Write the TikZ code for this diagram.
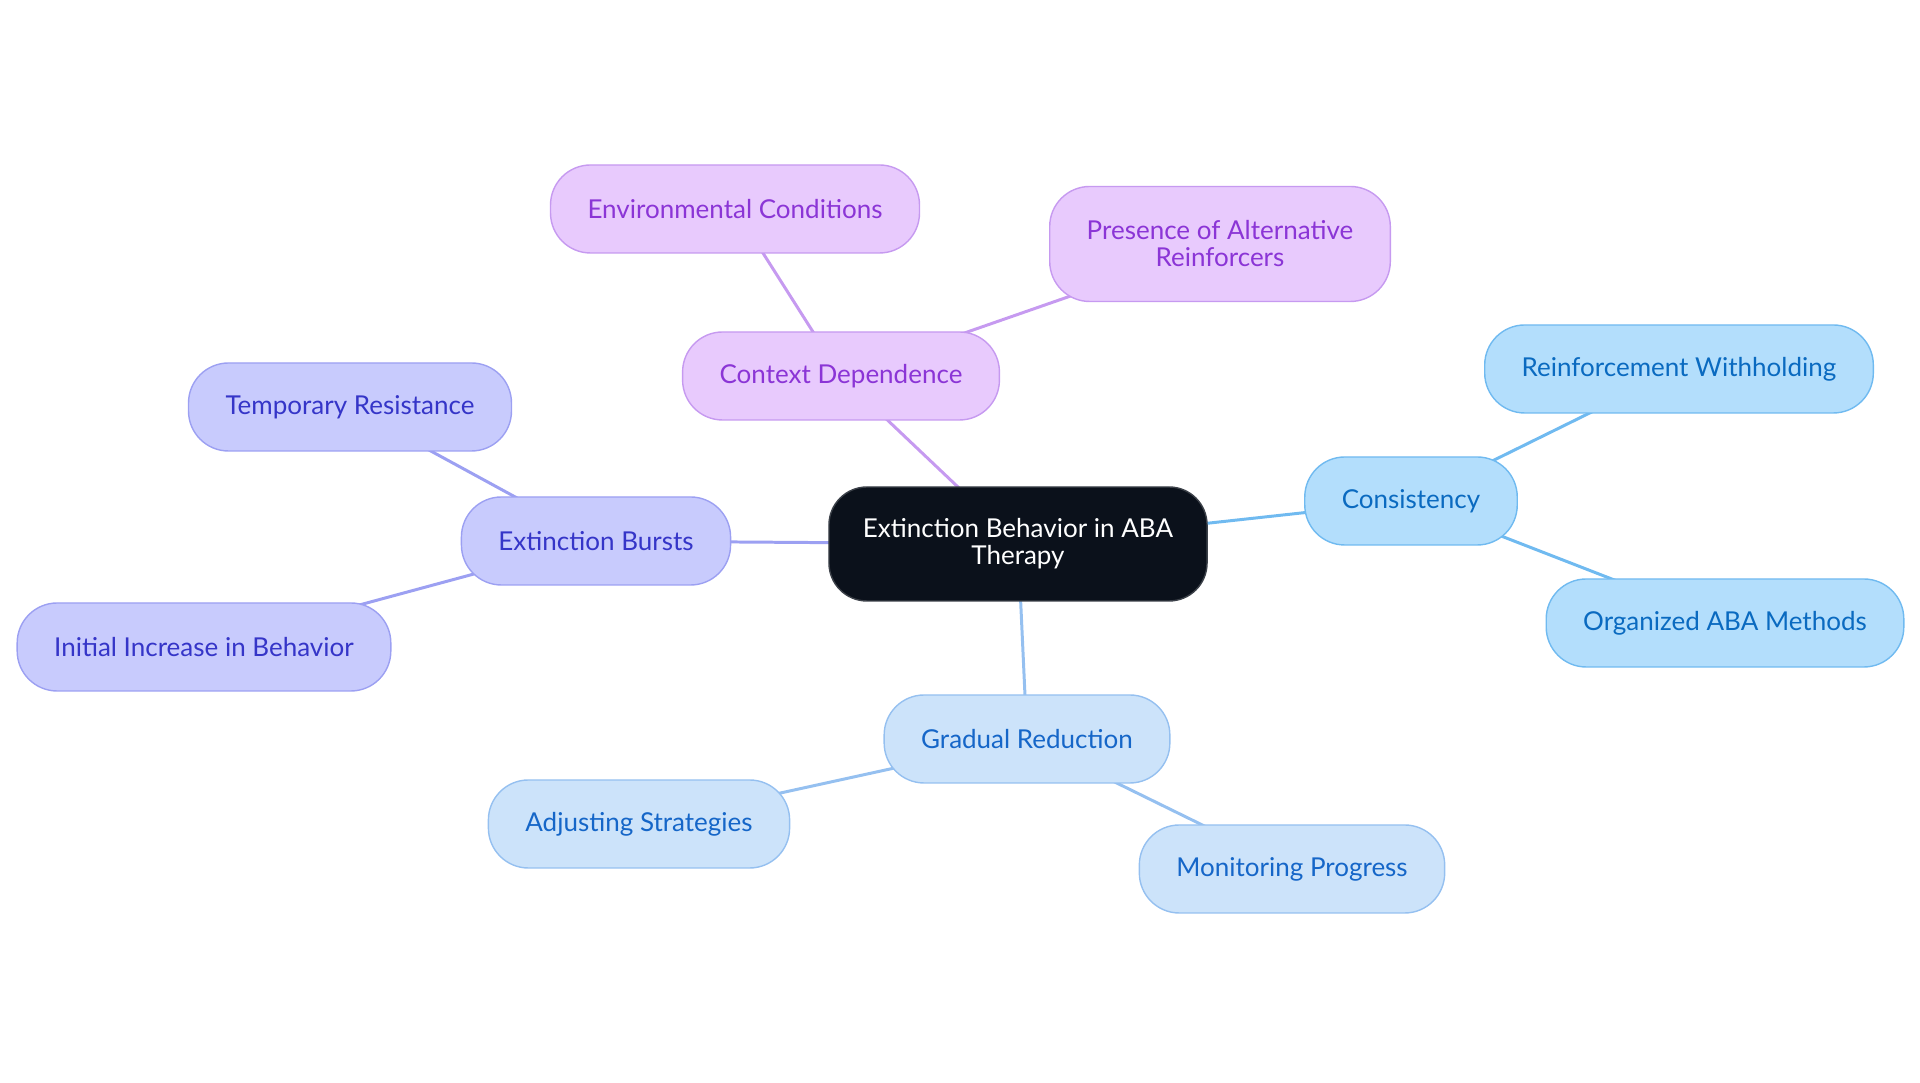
\documentclass[tikz,border=0pt]{standalone}
\usepackage{fontspec}
\setmainfont{Lato}
\usetikzlibrary{backgrounds}
\definecolor{cdark}{HTML}{0B111B}
\definecolor{pfill}{HTML}{E8CAFD}
\definecolor{pline}{HTML}{C69AF0}
\definecolor{ptext}{HTML}{8B35D6}
\definecolor{ifill}{HTML}{C8CBFD}
\definecolor{iline}{HTML}{9CA0F2}
\definecolor{itext}{HTML}{3535C8}
\definecolor{gfill}{HTML}{CCE3FA}
\definecolor{gline}{HTML}{95C0F0}
\definecolor{gtext}{HTML}{1566C8}
\definecolor{sfill}{HTML}{B3DEFC}
\definecolor{sline}{HTML}{70BAF0}
\definecolor{stext}{HTML}{0A6AC0}
\tikzset{
  every picture/.style={font=\fontsize{7.4}{7.7}\selectfont},
  topic/.style={draw=#1line, fill=#1fill, text=#1text, line width=0.4pt, rounded corners=0.4cm,
    align=center, inner xsep=0.37cm, minimum height=0.88cm},
  root/.style={draw=cdark!80, fill=cdark, text=white, line width=0.4pt, rounded corners=0.38cm,
    align=center, inner xsep=0.34cm, minimum height=1.14cm},
  link/.style={draw=#1line, line width=0.85pt},
}

\begin{document}
\begin{tikzpicture}
  \useasboundingbox (0,0) rectangle (19.2,10.83);
  % centre
  \node[root] (root) at (10.18,5.39) {Extinction Behavior in ABA\\Therapy};
  % context branch
  \node[topic=p] (ctx) at (8.41,7.07) {Context Dependence};
  \node[topic=p] (env) at (7.35,8.74) {Environmental Conditions};
  \node[topic=p, minimum height=1.15cm] (alt) at (12.20,8.39) {Presence of Alternative\\Reinforcers};
  % consistency branch
  \node[topic=s] (cons) at (14.11,5.82) {Consistency};
  \node[topic=s] (withh) at (16.79,7.14) {Reinforcement Withholding};
  \node[topic=s] (org) at (17.25,4.60) {Organized ABA Methods};
  % gradual reduction branch
  \node[topic=g] (grad) at (10.27,3.44) {Gradual Reduction};
  \node[topic=g] (adj) at (6.39,2.59) {Adjusting Strategies};
  \node[topic=g] (mon) at (12.92,2.14) {Monitoring Progress};
  % bursts branch
  \node[topic=i] (bursts) at (5.96,5.42) {Extinction Bursts};
  \node[topic=i] (temp) at (3.50,6.76) {Temporary Resistance};
  \node[topic=i] (init) at (2.04,4.36) {Initial Increase in Behavior};
  % connectors
  \begin{scope}[on background layer]
    \draw[link=p] (root.center) -- (ctx.center);
    \draw[link=p] (ctx.center) -- (env.center);
    \draw[link=p] (ctx.center) -- (alt.center);
    \draw[link=s] (root.center) -- (cons.center);
    \draw[link=s] (cons.center) -- (withh.center);
    \draw[link=s] (cons.center) -- (org.center);
    \draw[link=g] (root.center) -- (grad.center);
    \draw[link=g] (grad.center) -- (adj.center);
    \draw[link=g] (grad.center) -- (mon.center);
    \draw[link=i] (root.center) -- (bursts.center);
    \draw[link=i] (bursts.center) -- (temp.center);
    \draw[link=i] (bursts.center) -- (init.center);
  \end{scope}
\end{tikzpicture}
\end{document}
